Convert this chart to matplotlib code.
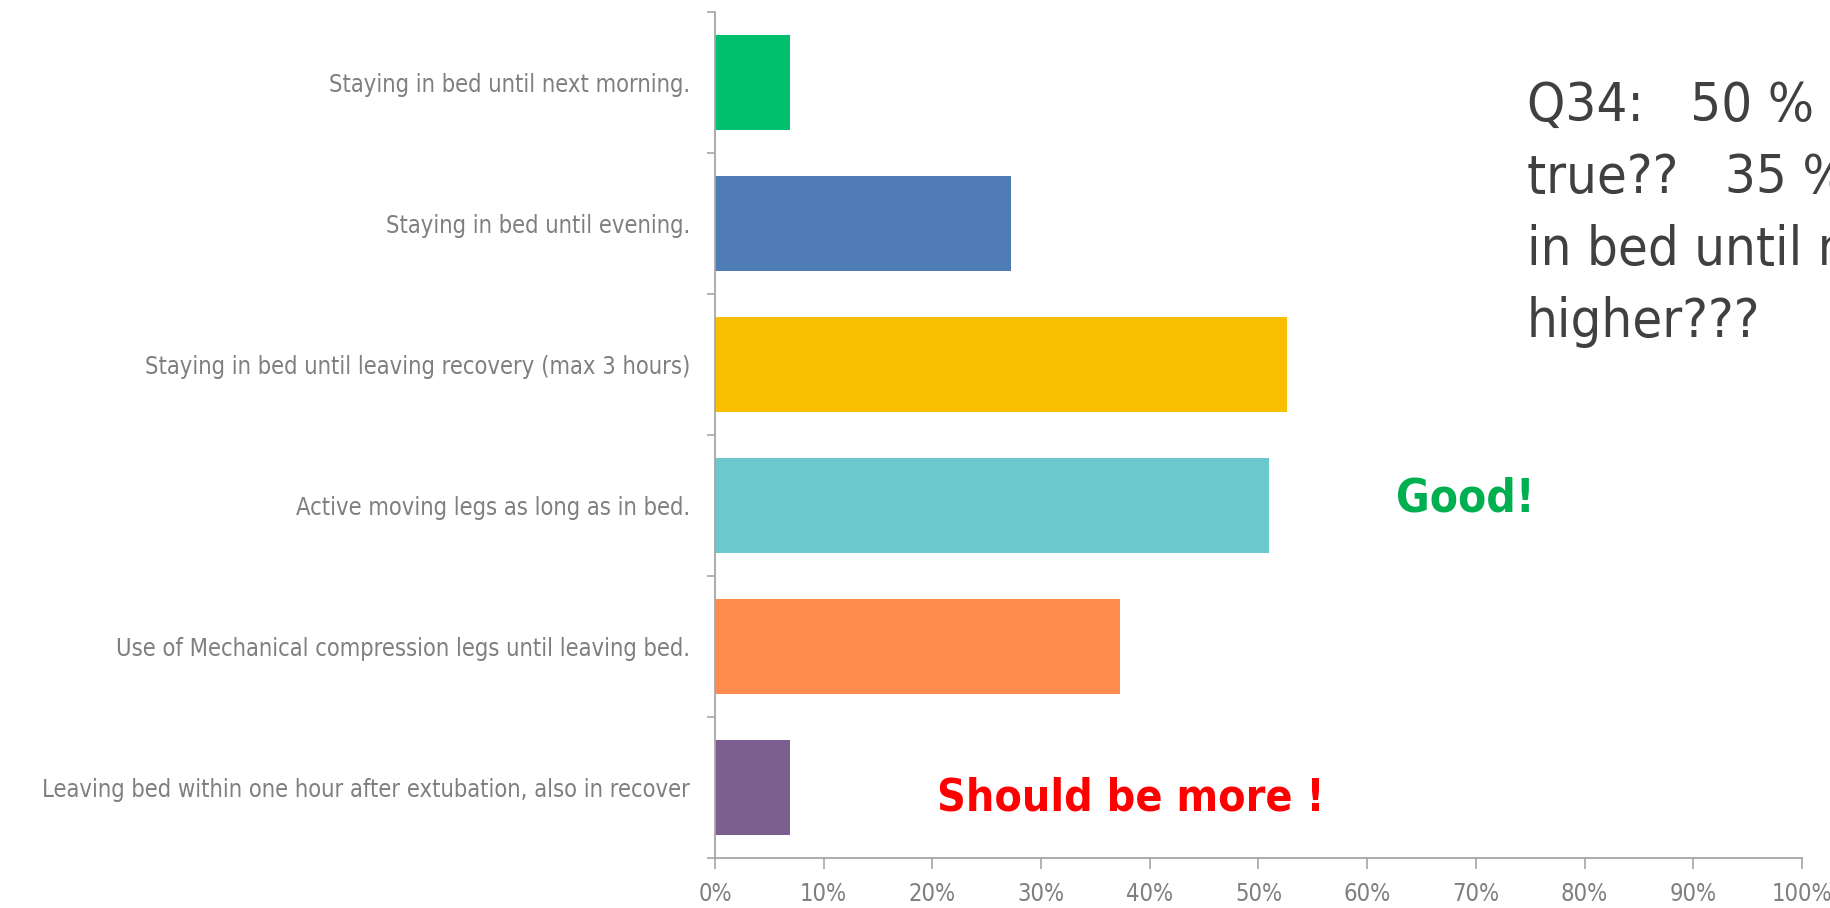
import numpy as np
import matplotlib
matplotlib.use("Agg")
import matplotlib.pyplot as plt
from matplotlib import font_manager

# ------------------------------------------------------------
# Data
# ------------------------------------------------------------
categories = [
    "Staying in bed until next morning.",
    "Staying in bed until evening.",
    "Staying in bed until leaving recovery (max 3 hours)",
    "Active moving legs as long as in bed.",
    "Use of Mechanical compression legs until leaving bed.",
    "Leaving bed within one hour after extubation, also in recover",
]
values = [6.9, 27.2, 52.6, 51.0, 37.3, 6.9]
bar_colors = ["#00BF6F", "#507CB6", "#F7BF00", "#6BC8CD", "#FF8B4F", "#7D5E90"]
xticks = [0, 10, 20, 30, 40, 50, 60, 70, 80, 90, 100]

note_lines = ["Q34:   50 %", "true??   35 % of patients", "in bed until next morning", "higher???"]

# narrow font if present, otherwise condensed DejaVu
names = {f.name for f in font_manager.fontManager.ttflist}
if "Liberation Sans Narrow" in names:
    FONT = ["Liberation Sans Narrow", "DejaVu Sans"]
    STRETCH = "normal"
else:
    FONT = ["DejaVu Sans"]
    STRETCH = "condensed"

plt.rcParams["font.family"] = FONT
plt.rcParams["font.stretch"] = STRETCH

GREY = "#7F7F7F"
AXIS = "#A6A6A6"

fig = plt.figure(figsize=(18.30, 9.08), dpi=100)
ax = fig.add_axes([0.3907, 0.0551, 0.5940, 0.9317])

y = np.arange(len(categories))
ax.barh(y, values, height=0.67, color=bar_colors)

ax.set_xlim(0, 100)
ax.set_ylim(len(categories) - 0.5, -0.5)

ax.set_xticks(xticks)
ax.set_xticklabels([f"{v}%" for v in xticks])
ax.set_yticks(y)
ax.set_yticklabels(categories)
ax.set_yticks(np.arange(len(categories) + 1) - 0.5, minor=True)

ax.tick_params(axis="y", which="major", length=0, pad=18, labelsize=17, labelcolor=GREY)
ax.tick_params(axis="y", which="minor", length=6, width=1.2, color=AXIS, direction="out")
ax.tick_params(axis="x", which="major", length=8, width=1.2, color=AXIS, direction="out",
               pad=9, labelsize=17, labelcolor=GREY)

for side in ["top", "right"]:
    ax.spines[side].set_visible(False)
for side in ["left", "bottom"]:
    ax.spines[side].set_color(AXIS)
    ax.spines[side].set_linewidth(1.3)

# side comments, one line at a time for even spacing
for i, line in enumerate(note_lines):
    fig.text(1527 / 1830, 1 - (106 + 72 * i) / 908, line, fontsize=39, color="#404040",
             va="center", ha="left")

fig.text(1396 / 1830, 1 - 499 / 908, "Good!", fontsize=33, fontweight="bold",
         color="#00B050", va="center", ha="left")
fig.text(937 / 1830, 1 - 798 / 908, "Should be more !", fontsize=32, fontweight="bold",
         color="#FF0000", va="center", ha="left")

fig.savefig("out.png", dpi=100)
